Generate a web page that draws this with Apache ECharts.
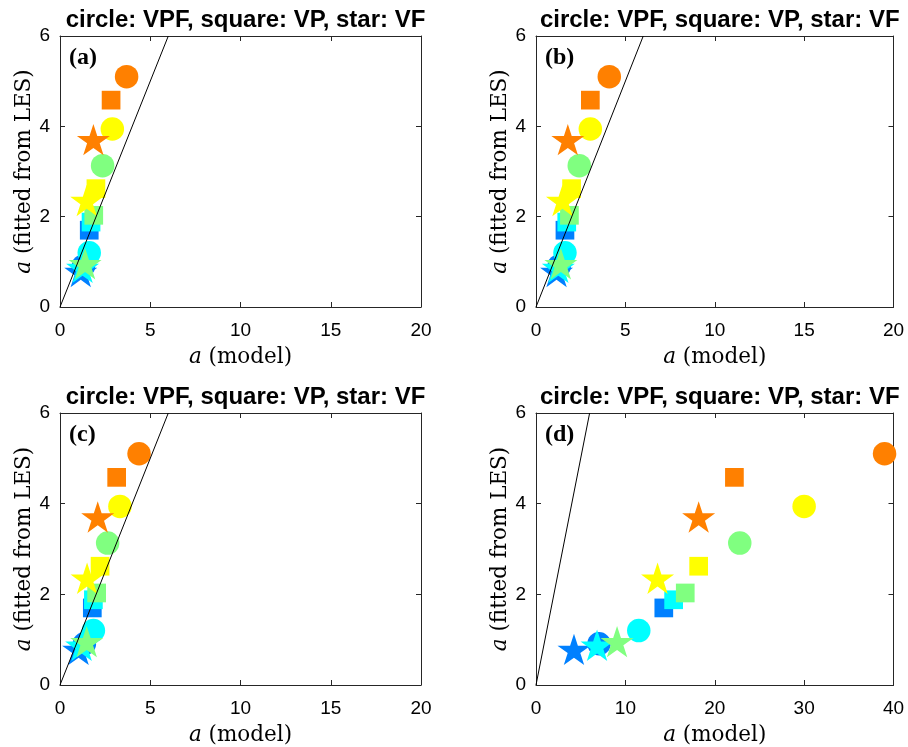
<!DOCTYPE html>
<html>
<head>
<meta charset="utf-8">
<script src="https://cdn.jsdelivr.net/npm/echarts@6/dist/echarts.min.js"></script>
<style>
  html, body { margin: 0; padding: 0; background: #fff; }
  #chart { width: 908px; height: 747px; }
</style>
</head>
<body>
<div id="chart"></div>
<script>
// Marker colours, one per case (same order in every array below)
const caseColors = ['#0080FF', '#00FFFF', '#80FF80', '#FFFF00', '#FF8000'];

// Fitted a from LES (shared by all four panels)
const yCircle = [0.91, 1.20, 3.13, 3.94, 5.10];   // VPF
const ySquare = [1.70, 1.88, 2.03, 2.62, 4.58];   // VP
const yStar   = [0.75, 0.84, 0.92, 2.32, 3.67];   // VF

// Model a, panel (a)
const xCircleA = [1.30, 1.62, 2.36, 2.90, 3.69];
const xSquareA = [1.62, 1.72, 1.87, 1.99, 2.83];
const xStarA   = [1.15, 1.25, 1.39, 1.48, 1.85];
// Model a, panel (b)
const xCircleB = [1.30, 1.62, 2.42, 3.04, 4.10];
const xSquareB = [1.62, 1.72, 1.87, 1.99, 3.04];
const xStarB   = [1.15, 1.25, 1.39, 1.48, 1.78];
// Model a, panel (c)
const xCircleC = [1.35, 1.85, 2.64, 3.32, 4.38];
const xSquareC = [1.79, 1.85, 2.03, 2.22, 3.14];
const xStarC   = [1.03, 1.20, 1.48, 1.50, 2.09];
// Model a, panel (d)
const xCircleD = [7.05, 11.5, 22.8, 30.0, 39.0];
const xSquareD = [14.3, 15.4, 16.7, 18.2, 22.2];
const xStarD   = [4.25, 6.83, 9.07, 13.6, 18.2];

// Tick values
const xTicksABC = [0, 5, 10, 15, 20];
const xTicksD   = [0, 10, 20, 30, 40];
const yTicks    = [0, 2, 4, 6];

// 1:1 reference line
const oneToOne = [[0, 0], [6, 6]];

const panelTitle = 'circle: VPF, square: VP, star: VF';
const panelTags = ['(a)', '(b)', '(c)', '(d)'];
const xAxisName = '{i|a} (model)';
const yAxisName = '{i|a} (fitted from LES)';

const panels = [
  { xc: xCircleA, xs: xSquareA, xp: xStarA, ticks: xTicksABC },
  { xc: xCircleB, xs: xSquareB, xp: xStarB, ticks: xTicksABC },
  { xc: xCircleC, xs: xSquareC, xp: xStarC, ticks: xTicksABC },
  { xc: xCircleD, xs: xSquareD, xp: xStarD, ticks: xTicksD }
];

const grids = [
  { left: 60,  top: 36,  width: 361,   height: 271 },
  { left: 536, top: 36,  width: 357.5, height: 271 },
  { left: 60,  top: 413, width: 361,   height: 272 },
  { left: 536, top: 413, width: 357.5, height: 272 }
];

// five-pointed star outline (MATLAB-like pentagram)
const STAR = 'path://M100 0L122.45 69.1L195.11 69.1L136.33 111.8L158.78 180.9L100 138.2L41.22 180.9L63.67 111.8L4.89 69.1L77.55 69.1Z';

const axisColor = '#262626';
const SANS = 'Liberation Sans, Arial, sans-serif';
const SERIF = 'Liberation Serif, Times New Roman, serif';
const MATH = 'DejaVu Serif, serif';
const tickFont = { fontFamily: SANS, fontSize: 19, color: '#000' };
const serifName = {
  fontFamily: MATH,
  fontSize: 21.5,
  color: '#000',
  rich: { i: { fontFamily: MATH, fontSize: 21.5, fontStyle: 'italic', color: '#000' } }
};

const xAxes = [], yAxes = [], series = [], titles = [];

panels.forEach((p, g) => {
  const gr = grids[g];
  const xmin = p.ticks[0], xmax = p.ticks[p.ticks.length - 1], xint = p.ticks[1] - p.ticks[0];
  const ymin = yTicks[0], ymax = yTicks[yTicks.length - 1], yint = yTicks[1] - yTicks[0];
  const common = {
    gridIndex: g,
    axisLine: { show: true, onZero: false, lineStyle: { color: axisColor, width: 1 } },
    axisTick: { show: true, inside: true, length: 5, lineStyle: { color: axisColor, width: 1 } },
    splitLine: { show: false }
  };
  xAxes.push(Object.assign({}, common, {
    type: 'value', position: 'bottom', min: xmin, max: xmax, interval: xint,
    axisLabel: Object.assign({ margin: 14 }, tickFont),
    name: xAxisName, nameLocation: 'middle', nameGap: 39, nameTextStyle: serifName
  }));
  xAxes.push(Object.assign({}, common, {
    type: 'value', position: 'top', min: xmin, max: xmax, interval: xint,
    axisLabel: { show: false }
  }));
  yAxes.push(Object.assign({}, common, {
    type: 'value', position: 'left', min: ymin, max: ymax, interval: yint,
    axisLabel: Object.assign({ margin: 10 }, tickFont),
    name: yAxisName, nameLocation: 'middle', nameGap: 20, nameTextStyle: serifName
  }));
  yAxes.push(Object.assign({}, common, {
    type: 'value', position: 'right', min: ymin, max: ymax, interval: yint,
    axisLabel: { show: false }
  }));

  const xi = g * 2, yi = g * 2;
  const mk = (xs, ys) => xs.map((x, k) => ({ value: [x, ys[k]], itemStyle: { color: caseColors[k], opacity: 1 } }));

  series.push({
    name: 'VPF', type: 'scatter', xAxisIndex: xi, yAxisIndex: yi,
    symbol: 'circle', symbolSize: 23.5, data: mk(p.xc, yCircle), silent: true,
    itemStyle: { opacity: 1 }
  });
  series.push({
    name: 'VP', type: 'scatter', xAxisIndex: xi, yAxisIndex: yi,
    symbol: 'rect', symbolSize: 18.7, data: mk(p.xs, ySquare), silent: true,
    itemStyle: { opacity: 1 }
  });
  series.push({
    name: 'VF', type: 'scatter', xAxisIndex: xi, yAxisIndex: yi,
    symbol: STAR, symbolSize: [33, 31.4], symbolOffset: [0, -1.64], data: mk(p.xp, yStar), silent: true,
    itemStyle: { opacity: 1 }
  });
  series.push({
    type: 'line', xAxisIndex: xi, yAxisIndex: yi, data: oneToOne,
    symbol: 'none', clip: true, silent: true,
    lineStyle: { color: '#000', width: 1 }
  });

  titles.push({
    text: panelTitle, left: gr.left + gr.width / 2, top: gr.top - 33, textAlign: 'center',
    textStyle: { fontFamily: SANS, fontSize: 24, fontWeight: 'bold', color: '#000' }
  });
  titles.push({
    text: panelTags[g], left: gr.left + 4, top: gr.top + 5,
    textStyle: { fontFamily: SERIF, fontSize: 24, fontWeight: 'bold', color: '#000' }
  });
});

const chart = echarts.init(document.getElementById('chart'), null, { renderer: 'canvas' });
chart.setOption({
  animation: false,
  backgroundColor: '#fff',
  title: titles,
  grid: grids,
  xAxis: xAxes,
  yAxis: yAxes,
  series: series
});
</script>
</body>
</html>
